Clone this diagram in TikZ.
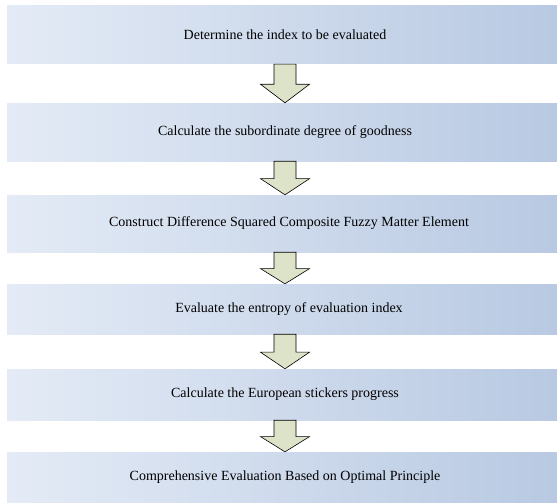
\documentclass[tikz,border=0pt]{standalone}
\usepackage{fontspec}
\setmainfont{Liberation Serif}
\usetikzlibrary{calc}
\definecolor{boxleft}{RGB}{228,235,246}
\definecolor{boxright}{RGB}{184,201,226}
\definecolor{arrowfill}{RGB}{221,227,200}
\tikzset{
  stepbox/.style={rectangle, draw=none, inner sep=0pt, minimum width=550pt,
    left color=boxleft, right color=boxright, font=\fontsize{14pt}{16pt}\selectfont},
  blockarrow/.style={draw=black, line width=0.6pt, fill=arrowfill, line join=miter}
}
% text nudged right of the box centre by half the given amount
\newcommand{\nudge}[1]{\hspace*{#1}}
\newcommand{\blockarrow}[2]{%
  \path ($(#1.south)+(3,0)$) coordinate (top)
        ($(#2.north)+(3,0)$) coordinate (tip)
        ($(top)!0.52!(tip)$) coordinate (neck);
  \draw[blockarrow] ($(top)+(-11,0)$) -- ($(neck)+(-11,0)$) -- ($(neck)+(-24.5,0)$)
    -- (tip) -- ($(neck)+(24.5,0)$) -- ($(neck)+(11,0)$) -- ($(top)+(11,0)$) -- cycle;
}
\begin{document}
\begin{tikzpicture}[x=1pt,y=-1pt]
  \useasboundingbox (0,0) rectangle (557,503);
  \node[stepbox, minimum height=58pt] (b1) at (282,35)    {\nudge{6pt}Determine the index to be evaluated};
  \node[stepbox, minimum height=58pt] (b2) at (282,132)   {\nudge{6pt}Calculate the subordinate degree of goodness};
  \node[stepbox, minimum height=57pt] (b3) at (282,223.5) {\nudge{14pt}Construct Difference Squared Composite Fuzzy Matter Element};
  \node[stepbox, minimum height=50pt] (b4) at (282,309)   {\nudge{14pt}Evaluate the entropy of evaluation index};
  \node[stepbox, minimum height=51pt] (b5) at (282,394.5) {\nudge{6pt}Calculate the European stickers progress};
  \node[stepbox, minimum height=51pt] (b6) at (282,477.5) {\nudge{6pt}Comprehensive Evaluation Based on Optimal Principle};
  \blockarrow{b1}{b2}
  \blockarrow{b2}{b3}
  \blockarrow{b3}{b4}
  \blockarrow{b4}{b5}
  \blockarrow{b5}{b6}
\end{tikzpicture}
\end{document}
